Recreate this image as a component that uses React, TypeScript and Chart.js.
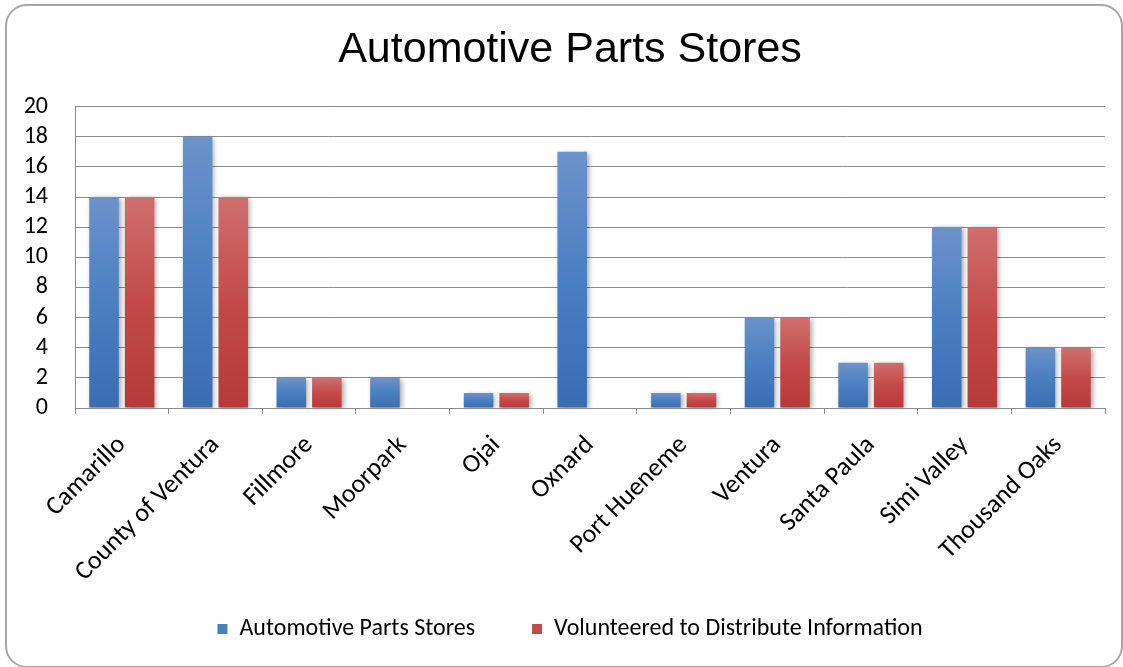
import React, { useEffect, useRef } from "react";
import { Chart, registerables } from "chart.js";

Chart.register(...registerables);

const categories = [
  "Camarillo",
  "County of Ventura",
  "Fillmore",
  "Moorpark",
  "Ojai",
  "Oxnard",
  "Port Hueneme",
  "Ventura",
  "Santa Paula",
  "Simi Valley",
  "Thousand Oaks",
];
const storesValues = [14, 18, 2, 2, 1, 17, 1, 6, 3, 12, 4];
const volunteeredValues = [14, 14, 2, null, 1, null, 1, 6, 3, 12, 4];
const seriesNames = ["Automotive Parts Stores", "Volunteered to Distribute Information"];
const yTicks = [0, 2, 4, 6, 8, 10, 12, 14, 16, 18, 20];

const BLUE_TOP = "#6c92cb";
const BLUE_MID = "#4a7fc1";
const BLUE_BOTTOM = "#3a6cb2";
const RED_TOP = "#cf6f6e";
const RED_MID = "#c34a49";
const RED_BOTTOM = "#b7393a";

const LABEL_FONT = "Carlito, Lato, 'Noto Sans', sans-serif";

function barGradient(top: string, mid: string, bottom: string) {
  return (ctx: any) => {
    const chart = ctx.chart;
    const y = chart.scales && chart.scales.y;
    const v = ctx.parsed ? ctx.parsed.y : null;
    if (!y || v == null || !chart.chartArea) return mid;
    const y0 = y.getPixelForValue(v);
    const y1 = y.getPixelForValue(0);
    if (!isFinite(y0) || !isFinite(y1) || y0 === y1) return mid;
    const g = chart.ctx.createLinearGradient(0, y0, 0, y1);
    g.addColorStop(0, top);
    g.addColorStop(0.5, mid);
    g.addColorStop(1, bottom);
    return g;
  };
}

const shadowPlugin = {
  id: "barShadow",
  beforeDatasetsDraw(chart: any) {
    const c = chart.ctx;
    c.save();
    c.shadowColor = "rgba(0,0,0,0.35)";
    c.shadowBlur = 5;
    c.shadowOffsetX = 2;
    c.shadowOffsetY = 1;
  },
  afterDatasetsDraw(chart: any) {
    chart.ctx.restore();
  },
};

const bgPlugin = {
  id: "bg",
  beforeDraw(chart: any) {
    const c = chart.ctx;
    c.save();
    c.fillStyle = "#ffffff";
    c.fillRect(0, 0, chart.width, chart.height);
    c.restore();
  },
};

export default function App() {
  const ref = useRef<HTMLCanvasElement | null>(null);

  useEffect(() => {
    document.body.style.margin = "0";
    if (!ref.current) return;
    const chart = new Chart(ref.current, {
      type: "bar",
      data: {
        labels: categories,
        datasets: [
          {
            label: seriesNames[0],
            data: storesValues,
            backgroundColor: barGradient(BLUE_TOP, BLUE_MID, BLUE_BOTTOM),
            categoryPercentage: 0.76,
            barPercentage: 0.83,
          },
          {
            label: seriesNames[1],
            data: volunteeredValues,
            backgroundColor: barGradient(RED_TOP, RED_MID, RED_BOTTOM),
            categoryPercentage: 0.76,
            barPercentage: 0.83,
          },
        ],
      },
      options: {
        responsive: false,
        animation: false,
        layout: { padding: { left: 35, right: 18, top: 0, bottom: 16 } },
        plugins: {
          tooltip: { enabled: false },
          title: {
            display: true,
            text: "Automotive Parts Stores",
            color: "#000",
            font: { family: "'Liberation Sans', Arial, sans-serif", size: 43, weight: "normal" },
            padding: { top: 24, bottom: 31 },
          },
          legend: {
            position: "bottom",
            labels: {
              color: "#000",
              font: { family: LABEL_FONT, size: 24 },
              boxWidth: 10,
              boxHeight: 10,
              padding: 57,
              generateLabels: () => [
                { text: seriesNames[0], fillStyle: BLUE_MID, strokeStyle: BLUE_MID, lineWidth: 0, datasetIndex: 0, hidden: false },
                { text: seriesNames[1], fillStyle: RED_MID, strokeStyle: RED_MID, lineWidth: 0, datasetIndex: 1, hidden: false },
              ],
            },
          },
        },
        scales: {
          x: {
            offset: true,
            grid: {
              display: true,
              drawOnChartArea: false,
              drawTicks: true,
              tickLength: 6,
              color: "#8c8c8c",
              offset: true,
            },
            border: { display: true, color: "#8c8c8c", width: 1 },
            ticks: {
              color: "#000",
              font: { family: LABEL_FONT, size: 26 },
              maxRotation: 45,
              minRotation: 45,
              autoSkip: false,
              padding: 16,
            },
            afterFit: (s: any) => {
              s.height = 152;
              s._computeLabelArea = () => undefined;
            },
          },
          y: {
            min: 0,
            max: 20,
            afterBuildTicks: (s: any) => {
              s.ticks = yTicks.map((v) => ({ value: v }));
            },
            grid: { color: "#8c8c8c", drawTicks: false, lineWidth: 1 },
            border: { display: true, color: "#8c8c8c", width: 1 },
            ticks: {
              color: "#000",
              font: { family: LABEL_FONT, size: 24 },
              padding: 27,
              autoSkip: false,
            },
            afterFit: (s: any) => {
              s.width = 40;
              s._computeLabelArea = () => undefined;
            },
          },
        },
      },
      plugins: [bgPlugin, shadowPlugin],
    });
    return () => chart.destroy();
  }, []);

  return (
    <div style={{ position: "relative", width: 1123, height: 667, background: "#fff" }}>
      <canvas ref={ref} width={1123} height={667} style={{ position: "absolute", left: 0, top: 0 }} />
      <div
        style={{
          position: "absolute",
          left: 5,
          top: 4,
          width: 1114,
          height: 660,
          border: "2px solid #a6a6a6",
          borderRadius: 22,
          pointerEvents: "none",
        }}
      />
    </div>
  );
}
